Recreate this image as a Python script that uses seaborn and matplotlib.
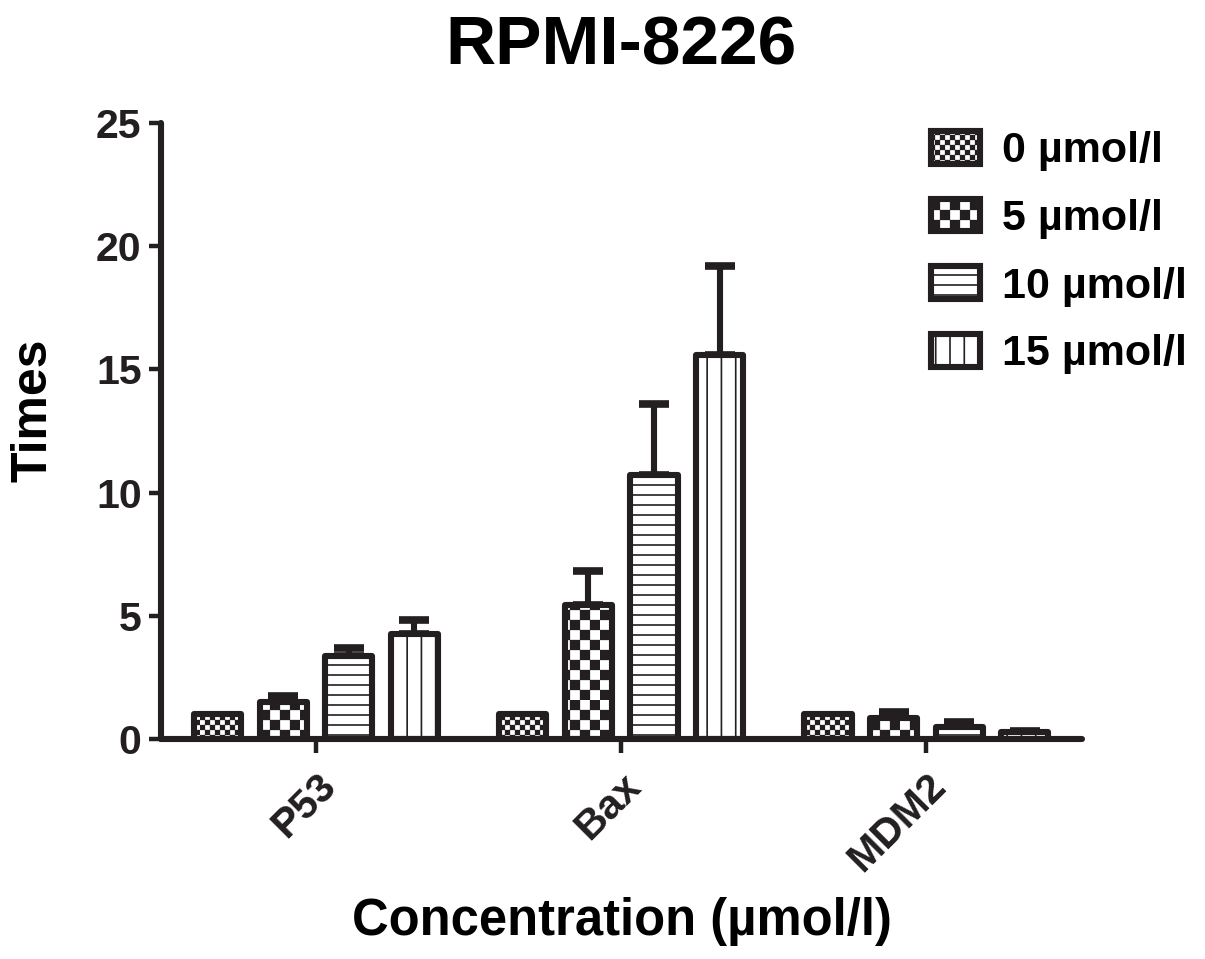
"""Grouped bar chart: fold change of P53 / Bax / MDM2 in RPMI-8226 cells."""

import warnings

import matplotlib

matplotlib.use("Agg")

import matplotlib.hatch as mhatch  # noqa: E402
import matplotlib.patches as mpatches  # noqa: E402
import matplotlib.pyplot as plt  # noqa: E402
import numpy as np  # noqa: E402
import pandas as pd  # noqa: E402
import seaborn as sns  # noqa: E402
from matplotlib.path import Path  # noqa: E402

# custom hatch letters trigger a deprecation warning only
warnings.filterwarnings("ignore")

# Data
genes = ["P53", "Bax", "MDM2"]
doses = ["0 µmol/l", "5 µmol/l", "10 µmol/l", "15 µmol/l"]
p53_mean = [1.0, 1.5, 3.37, 4.27]
p53_err = [0.0, 0.25, 0.33, 0.57]
bax_mean = [1.0, 5.45, 10.7, 15.6]
bax_err = [0.0, 1.38, 2.9, 3.6]
mdm2_mean = [1.0, 0.85, 0.5, 0.28]
mdm2_err = [0.0, 0.25, 0.2, 0.05]
y_ticks = [0, 5, 10, 15, 20, 25]

INK = "#231f20"
# c = fine checker, k = coarse checker, h = horizontal rules, v = vertical rules
HATCHES = ["c", "k", "h", "v"]


class BlockHatch(mhatch.HatchPatternBase):
    """Checkerboard and evenly spaced rule hatches (tile = 1 inch)."""

    def __init__(self, hatch, density):
        self.checks = 20 * hatch.count("c") + 10 * hatch.count("k")
        self.hlines = 10 * hatch.count("h")
        self.vlines = 7 * hatch.count("v")
        n = self.checks
        self.cells = [(i, j) for i in range(n) for j in range(n) if (i + j) % 2 == 0]
        self.num_vertices = 5 * len(self.cells) + 2 * self.hlines + 2 * self.vlines

    def set_vertices_and_codes(self, vertices, codes):
        k = 0
        if self.checks:
            s = 1.0 / self.checks
            inset = 0.007
            for i, j in self.cells:
                x0, y0 = i * s + inset, j * s + inset
                x1, y1 = (i + 1) * s - inset, (j + 1) * s - inset
                vertices[k:k + 5] = [(x0, y0), (x1, y0), (x1, y1), (x0, y1), (x0, y0)]
                codes[k:k + 5] = [Path.MOVETO, Path.LINETO, Path.LINETO,
                                  Path.LINETO, Path.CLOSEPOLY]
                k += 5
        for m in range(self.hlines):
            y = (m + 0.5) / self.hlines
            vertices[k:k + 2] = [(0.0, y), (1.0, y)]
            codes[k:k + 2] = [Path.MOVETO, Path.LINETO]
            k += 2
        for m in range(self.vlines):
            x = (m + 0.5) / self.vlines
            vertices[k:k + 2] = [(x, 0.0), (x, 1.0)]
            codes[k:k + 2] = [Path.MOVETO, Path.LINETO]
            k += 2


mhatch._hatch_types.append(BlockHatch)

df = pd.DataFrame({
    "gene": np.repeat(genes, len(doses)),
    "dose": doses * len(genes),
    "fold": p53_mean + bax_mean + mdm2_mean,
    "err": p53_err + bax_err + mdm2_err,
})

sns.set_theme(style="ticks")
plt.rcParams["font.family"] = ["Liberation Sans", "DejaVu Sans"]
plt.rcParams["font.weight"] = "bold"
plt.rcParams["hatch.linewidth"] = 1.2
plt.rcParams["hatch.color"] = INK
plt.rcParams["axes.linewidth"] = 4.4

fig = plt.figure(figsize=(12.05, 9.59), dpi=100)
ax = fig.add_axes([161 / 1205, 1 - 739 / 959, 921 / 1205, 616 / 959])

sns.barplot(
    data=df,
    x="gene",
    y="fold",
    hue="dose",
    order=genes,
    hue_order=doses,
    palette={d: "white" for d in doses},
    saturation=1,
    edgecolor=INK,
    linewidth=4.4,
    width=0.86,
    gap=0.28,
    errorbar=None,
    legend=False,
    ax=ax,
)

# hatches + upper-only error bars (drawn behind the bars)
for container, dose, hatch in zip(ax.containers, doses, HATCHES):
    sub = df[df["dose"] == dose].set_index("gene").loc[genes]
    xs, ys, es = [], [], []
    for bar, e in zip(container, sub["err"]):
        bar.set_hatch(hatch)
        bar.set_joinstyle("round")
        if e > 0:
            xs.append(bar.get_x() + bar.get_width() / 2)
            ys.append(bar.get_height())
            es.append(e)
    if xs:
        ax.errorbar(xs, ys, yerr=[np.zeros(len(es)), es], fmt="none",
                    ecolor=INK, elinewidth=4.4, capsize=10.5, capthick=5.5,
                    zorder=0.5)

ax.set_xlim(-0.508, 2.51)
ax.set_ylim(0, 25)
ax.set_yticks(y_ticks)
sns.despine(ax=ax)
for side in ("left", "bottom"):
    ax.spines[side].set_color(INK)
    ax.spines[side].set_capstyle("round")

ax.tick_params(axis="y", length=9, width=3.2, color=INK, pad=5,
               labelsize=29.5, labelcolor=INK)
ax.tick_params(axis="x", length=10, width=3.2, color=INK, pad=10,
               labelsize=29.5, labelcolor=INK)
for lab in ax.get_xticklabels():
    lab.set_rotation(45)
    lab.set_ha("right")
    lab.set_va("top")
    lab.set_rotation_mode("anchor")
    lab.set_fontweight("bold")
for lab in ax.get_yticklabels():
    lab.set_fontweight("bold")

ax.set_xlabel("Concentration (µmol/l)", fontsize=36.5, fontweight="bold",
              color="black")
ax.xaxis.set_label_coords(0.5, -0.257)
ax.set_ylabel("Times", fontsize=36, fontweight="bold", color="black")
ax.yaxis.set_label_coords(-0.113, 0.534)
ax.set_title("RPMI-8226", fontsize=50, fontweight="bold", color="black", pad=42)

handles = [
    mpatches.Patch(facecolor="white", edgecolor=INK, hatch=h, linewidth=4.4,
                   joinstyle="round", label=d)
    for d, h in zip(doses, HATCHES)
]
fig.legend(
    handles=handles,
    loc="upper left",
    bbox_to_anchor=(931 / 1205, 1 - 131 / 959),
    frameon=False,
    fontsize=31,
    handlelength=1.14,
    handleheight=0.8,
    handletextpad=0.5,
    labelspacing=0.63,
    borderpad=0,
    borderaxespad=0,
    labelcolor="black",
    prop={"weight": "bold", "size": 31},
)

fig.savefig("out.png", dpi=100)
plt.close(fig)
